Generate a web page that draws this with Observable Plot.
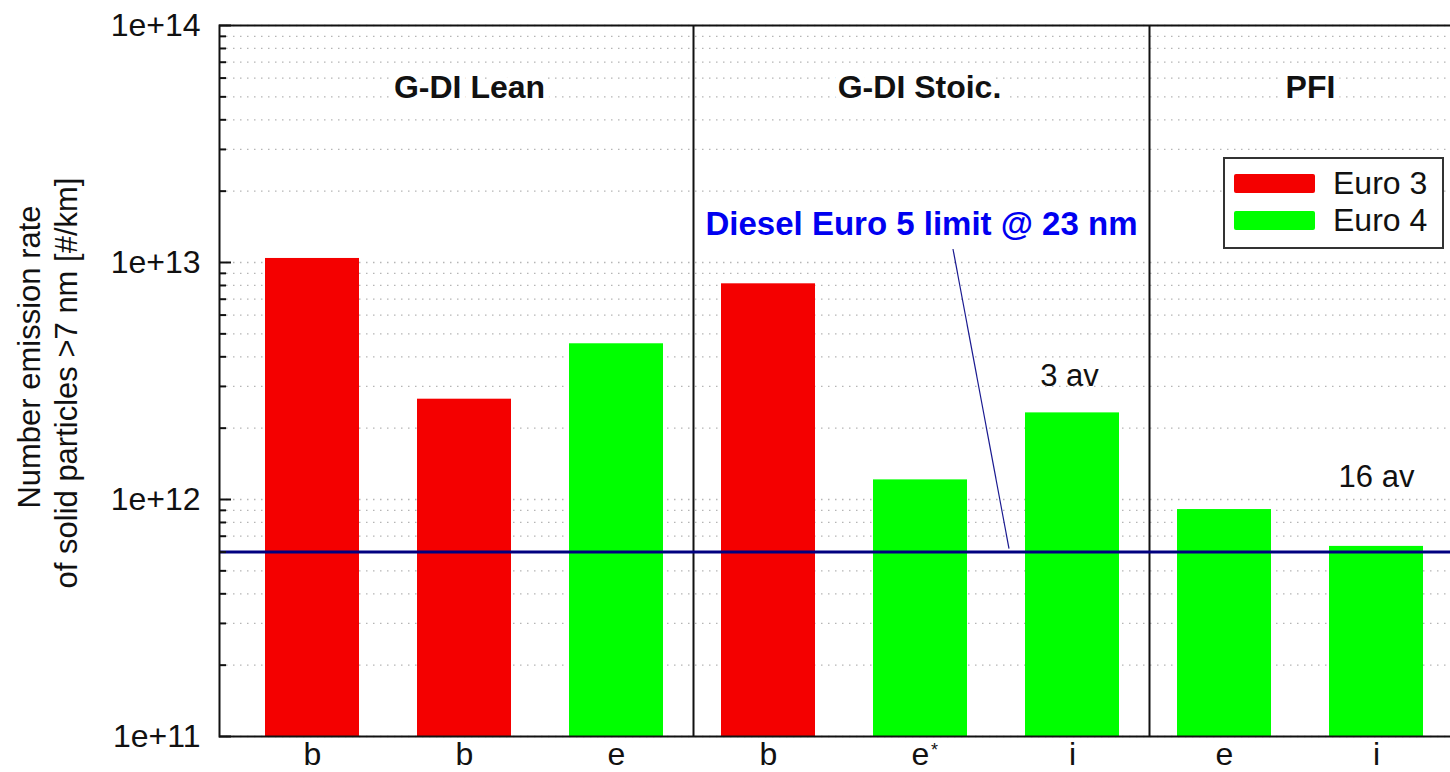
<!DOCTYPE html>
<html>
<head>
<meta charset="utf-8">
<script src="https://cdn.jsdelivr.net/npm/d3@7"></script>
<script src="https://cdn.jsdelivr.net/npm/@observablehq/plot@0.6"></script>
<style>
  html, body { margin: 0; padding: 0; background: #fff; overflow: hidden; }
  #wrap { position: relative; width: 1450px; height: 772px; font-family: "Liberation Sans", Arial, sans-serif; color: #111; }
  #legend { position: absolute; left: 1223px; top: 157px; width: 217px; height: 88px; border: 2px solid #333; background: #fff; }
  #legend .sw { position: absolute; left: 9px; width: 81px; height: 19px; border-radius: 2px; }
  #legend .tx { position: absolute; left: 108px; font-size: 32px; line-height: 32px; white-space: nowrap; }
</style>
</head>
<body>
<div id="wrap"></div>
<script>
// ---------- data ----------
const ids      = ["b1", "b2", "e1", "b3", "e2", "i1", "e3", "i2"];
const labels   = ["b", "b", "e", "b", "e", "i", "e", "i"];
const marksSup = ["", "", "", "", "*", "", "", ""];
const groups   = ["G-DI Lean", "G-DI Lean", "G-DI Lean", "G-DI Stoic.", "G-DI Stoic.", "G-DI Stoic.", "PFI", "PFI"];
const series   = ["Euro 3", "Euro 3", "Euro 4", "Euro 3", "Euro 4", "Euro 4", "Euro 4", "Euro 4"];
const values   = [1.04e13, 2.65e12, 4.54e12, 8.13e12, 1.21e12, 2.32e12, 9.07e11, 6.34e11];
const seriesNames  = ["Euro 3", "Euro 4"];
const seriesColors = ["#f40000", "#00ff00"];
const limitValue = 6e11;
const limitLabel = "Diesel Euro 5 limit @ 23 nm";
const yTicks = [1e11, 1e12, 1e13, 1e14];
const yLabelLines = ["Number emission rate", "of solid particles >7 nm [#/km]"];
const noteTexts = ["3 av", "16 av"];
const noteIds = ["i1", "i2"];

// ---------- derived ----------
const table = ids.map((id, i) => ({id, label: labels[i], group: groups[i], series: series[i], value: values[i]}));
const valueOf = id => values[ids.indexOf(id)];
const yMin = yTicks[0], yMax = yTicks[yTicks.length - 1];
const gridValues = [], minorTicks = [];
for (let e = Math.round(Math.log10(yMin)); e < Math.round(Math.log10(yMax)); e++) {
  for (let k = 1; k <= 9; k++) {
    const v = k * Math.pow(10, e);
    gridValues.push(v);
    if (k > 1) minorTicks.push(v);
  }
}
gridValues.push(yMax);
const dividerIds = ids.filter((id, i) => i < ids.length - 1 && groups[i] !== groups[i + 1]);
const supIds = ids.filter((id, i) => marksSup[i]);

// ---------- layout ----------
const W = 1450, H = 772, mL = 219, mR = -5, mT = 25, mB = 36;
const plotW = W - mL - mR;
const FONT = "'Liberation Sans', Arial, sans-serif";

function haloText(text, id, dx, dy) {
  const common = {x: () => id, text: () => text, frameAnchor: "top", lineAnchor: "middle", dx, dy, fontSize: 32, fontWeight: "bold"};
  return [
    Plot.text([text], {...common, fill: "white", stroke: "white", strokeWidth: 12}),
    Plot.text([text], {...common, fill: "#111"})
  ];
}

const chart = Plot.plot({
  width: W, height: H,
  marginLeft: mL, marginRight: mR, marginTop: mT, marginBottom: mB,
  style: `font-family: ${FONT}; font-size: 32px; color: #111; background: white; overflow: hidden;`,
  x: {type: "band", domain: ids, range: [233, 1454], paddingInner: 0.384, paddingOuter: 0.192,
      tickFormat: id => labels[ids.indexOf(id)], tickSize: 0, tickPadding: 6, label: null},
  y: {type: "log", domain: [yMin, yMax], ticks: yTicks, tickFormat: d => d.toExponential(),
      tickSize: 0, tickPadding: 19, label: null},
  color: {domain: seriesNames, range: seriesColors},
  marks: [
    Plot.ruleY(gridValues, {y: d => d, stroke: "#b5b5b5", strokeWidth: 1.3, strokeDasharray: "1.5,5.5"}),
    ...haloText("G-DI Lean", "b2", 5, 62),
    ...haloText("G-DI Stoic.", "e2", -1, 62),
    ...haloText("PFI", "e3", 86, 62),
    Plot.barY(table, {x: "id", y1: () => yMin, y2: "value", fill: "series"}),
    Plot.ruleX(dividerIds, {x: d => d, dx: 77, stroke: "#111", strokeWidth: 2}),
    Plot.ruleY([limitValue], {y: d => d, stroke: "#000080", strokeWidth: 3}),
    Plot.tickY(minorTicks, {y: d => d, stroke: "#111", strokeWidth: 2, insetRight: plotW - 7}),
    Plot.tickY(yTicks, {y: d => d, stroke: "#111", strokeWidth: 2, insetRight: plotW - 12}),
    Plot.frame({stroke: "#111", strokeWidth: 2}),
    Plot.text([limitLabel], {x: () => "e2", text: d => d, frameAnchor: "top", lineAnchor: "middle", dx: 1, dy: 199,
      fill: "#0000f0", fontWeight: "bold", fontSize: 33}),
    Plot.text([noteTexts[0]], {x: () => noteIds[0], y: () => valueOf(noteIds[0]), text: d => d, dx: -3, dy: -37, fontSize: 31, fill: "#111"}),
    Plot.text([noteTexts[1]], {x: () => noteIds[1], y: () => valueOf(noteIds[1]), text: d => d, dx: 0, dy: -69, fontSize: 31, fill: "#111"}),
    Plot.text(supIds, {x: d => d, text: d => marksSup[ids.indexOf(d)], frameAnchor: "bottom", lineAnchor: "middle", dx: 14, dy: 14, fontSize: 18, fill: "#111"})
  ]
});

const wrap = document.getElementById("wrap");
wrap.appendChild(chart);

// ---------- extras drawn from the library's scales ----------
const svg = d3.select(chart.tagName.toLowerCase() === "svg" ? chart : chart.querySelector("svg"));
const xs = chart.scale("x"), ys = chart.scale("y");
const cx = id => xs.apply(id) + (xs.bandwidth || 0) / 2;
const yLimit = ys.apply(limitValue);

// leader line from the limit label to the limit rule
svg.append("line")
  .attr("x1", cx("e2") + 33).attr("y1", mT + 199 + 25)
  .attr("x2", cx("i1") - 63).attr("y2", yLimit - 3)
  .attr("stroke", "#1a1a90").attr("stroke-width", 1.2);

// two-line rotated y-axis title
const yl = svg.append("g").attr("font-size", 31).attr("fill", "#111").attr("text-anchor", "middle");
yl.append("text").attr("transform", "translate(40,357) rotate(-90)").text(yLabelLines[0]);
yl.append("text").attr("transform", "translate(77,383) rotate(-90)").text(yLabelLines[1]);

// legend
const legend = document.createElement("div");
legend.id = "legend";
seriesNames.forEach((name, i) => {
  const sw = document.createElement("div");
  sw.className = "sw";
  sw.style.top = (15 + i * 37) + "px";
  sw.style.background = seriesColors[i];
  const tx = document.createElement("div");
  tx.className = "tx";
  tx.style.top = (8 + i * 37) + "px";
  tx.textContent = name;
  legend.appendChild(sw);
  legend.appendChild(tx);
});
wrap.appendChild(legend);
</script>
</body>
</html>
